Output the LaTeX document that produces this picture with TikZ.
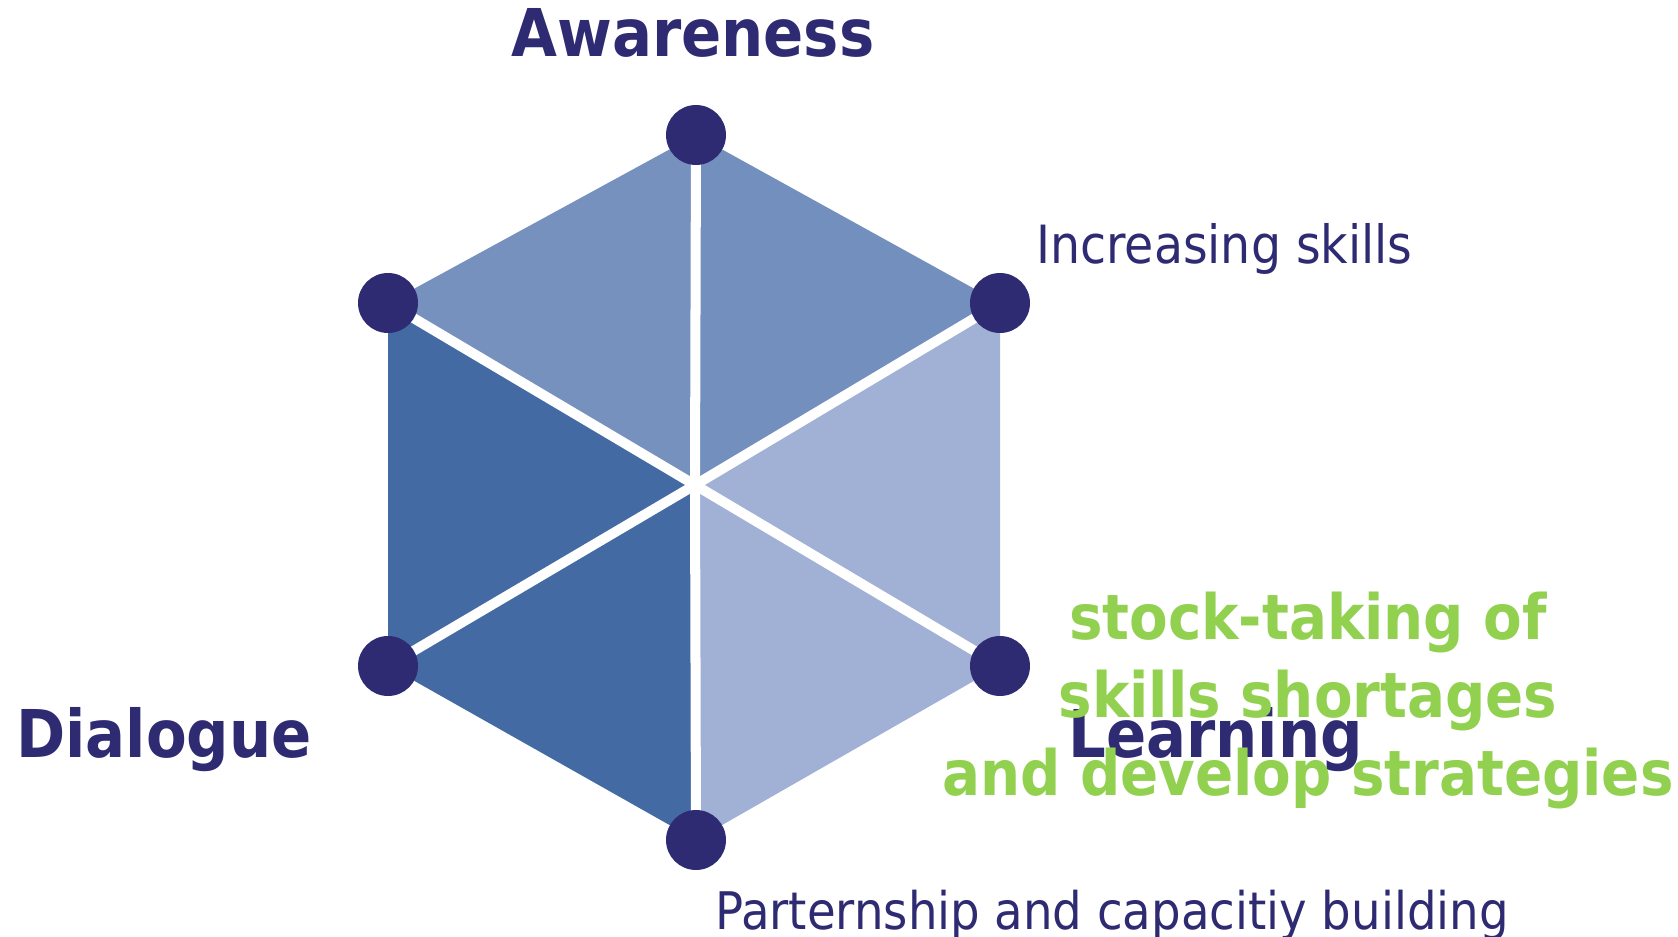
\documentclass[tikz,border=0pt]{standalone}
\usepackage{fontspec}
\setmainfont{DejaVu Sans Condensed}

\definecolor{navy}{RGB}{47,43,115}
\definecolor{blueTL}{RGB}{119,145,191}
\definecolor{blueTR}{RGB}{115,143,190}
\definecolor{blueDark}{RGB}{67,106,163}
\definecolor{blueLight}{RGB}{161,177,214}
\definecolor{leafgreen}{RGB}{146,208,80}

\tikzset{
  spoke/.style={draw=white, line width=5.7pt},
  dot/.style={circle, fill=navy, minimum size=1.2cm, inner sep=0pt},
  bigword/.style={text=navy, font=\fontsize{37.5}{44}\selectfont\bfseries, inner sep=0pt},
  smallword/.style={text=navy, font=\fontsize{30}{36}\selectfont, inner sep=0pt},
  greenword/.style={text=leafgreen, font=\fontsize{35.6}{44}\selectfont\bfseries, inner sep=0pt, anchor=base}
}

\begin{document}
\begin{tikzpicture}[x=0.02cm, y=0.02cm]

\useasboundingbox (0,0) rectangle (1678,937);

\coordinate (mid) at (695,452);
\coordinate (top) at (696,802);
\coordinate (ur) at (1000,634);
\coordinate (lr) at (1000,271);
\coordinate (bot) at (696,97);
\coordinate (ll) at (388,271);
\coordinate (ul) at (388,634);

\fill[blueTL] (mid) -- (ul) -- (top) -- cycle;
\fill[blueTR] (mid) -- (top) -- (ur) -- cycle;
\fill[blueLight] (mid) -- (ur) -- (lr) -- (bot) -- cycle;
\fill[blueDark] (mid) -- (bot) -- (ll) -- (ul) -- cycle;

\foreach \v in {top,ur,lr,bot,ll,ul}
  \draw[spoke] (mid) -- (\v);

\foreach \v in {top,ur,lr,bot,ll,ul}
  \node[dot] (dot-\v) at (\v) {};

\node at (693,880)[bigword, anchor=base] (awareness) {Awareness};
\node at (16,179)[bigword, anchor=base west] (dialogue) {Dialogue};
\node at (1068,179)[bigword, anchor=base west] (learning) {Learning};

\node at (1036,673)[smallword, anchor=base west] (skills) {Increasing skills};
\node at (715,8)[smallword, font=\fontsize{29.5}{36}\selectfont, anchor=base west] (partnership) {Parternship and capacitiy building};

\node at (1308,297)[greenword] (stock1) {stock-taking of};
\node at (1308,219)[greenword] (stock2) {skills shortages};
\node at (1308,141)[greenword] (stock3) {and develop strategies};

\end{tikzpicture}
\end{document}
